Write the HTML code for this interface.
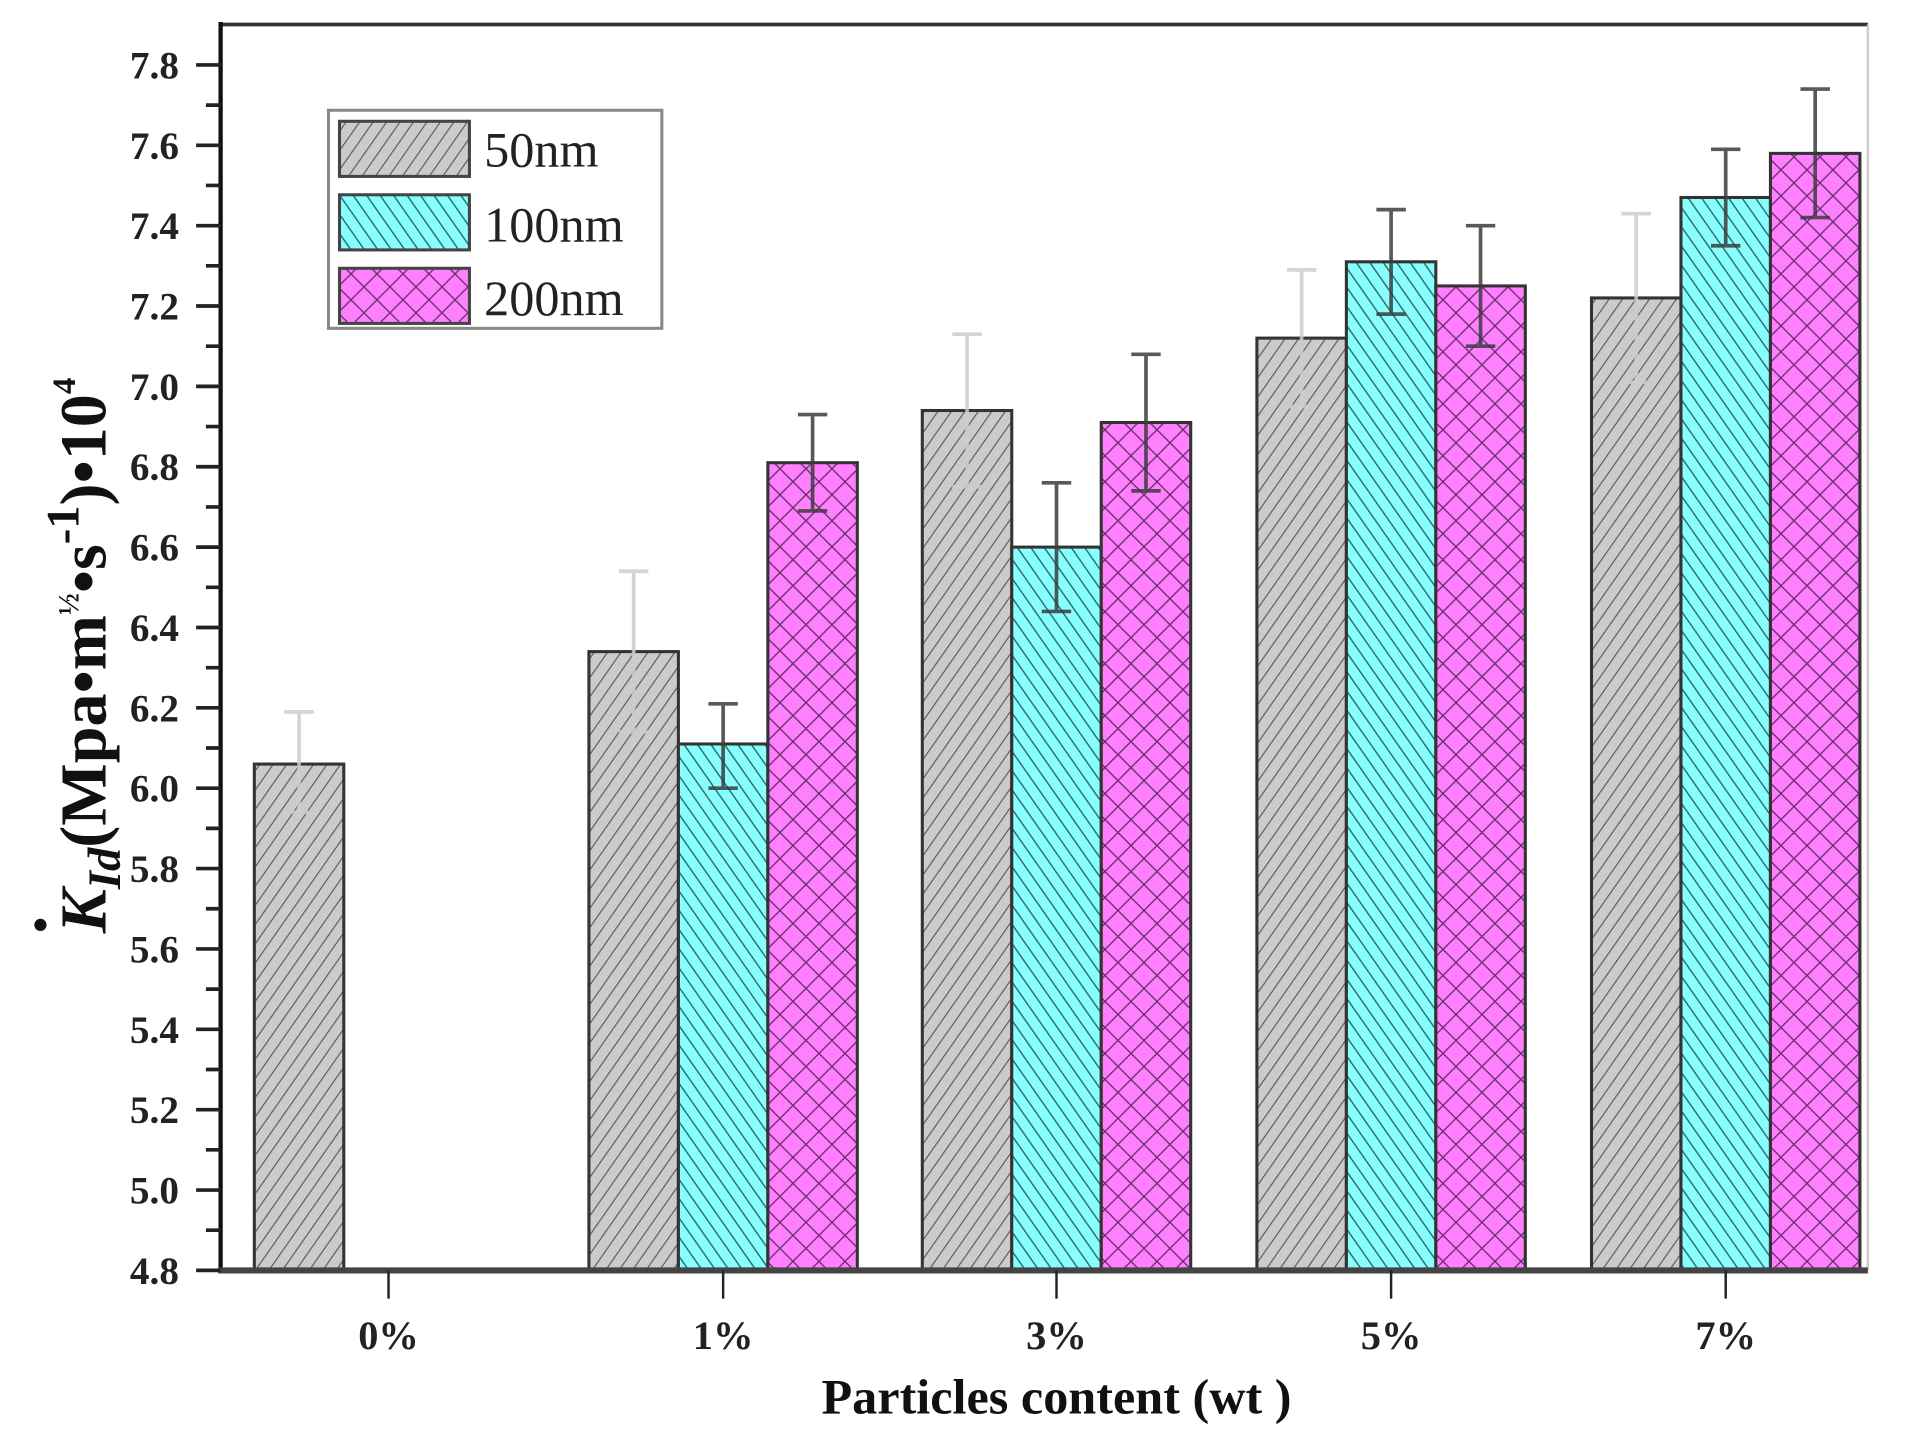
<!DOCTYPE html>
<html><head><meta charset="utf-8"><style>html,body{margin:0;padding:0;background:#fff}svg{display:block}</style></head>
<body>
<svg width="1912" height="1437" viewBox="0 0 1560 1173" preserveAspectRatio="none" xmlns="http://www.w3.org/2000/svg" font-family="'Liberation Serif',serif">
<defs>
<pattern id="pg" width="9" height="9" patternUnits="userSpaceOnUse" patternTransform="rotate(35)">
<rect width="9" height="9" fill="#cbcbcb"/><line x1="0" y1="0" x2="0" y2="9" stroke="#555" stroke-width="1.8"/></pattern>
<pattern id="pc" width="9" height="9" patternUnits="userSpaceOnUse" patternTransform="rotate(-35)">
<rect width="9" height="9" fill="#88ffff"/><line x1="0" y1="0" x2="0" y2="9" stroke="#2f6f6f" stroke-width="2.4"/></pattern>
<pattern id="pm" width="15" height="15" patternUnits="userSpaceOnUse" patternTransform="rotate(45)">
<rect width="15" height="15" fill="#ff80ff"/><line x1="0" y1="0" x2="0" y2="15" stroke="#6a2f6a" stroke-width="2.2"/><line x1="0" y1="0" x2="15" y2="0" stroke="#6a2f6a" stroke-width="2.2"/></pattern>
</defs>
<rect width="1560" height="1173" fill="#fff"/>
<g stroke="#333" stroke-width="2.5">
<rect x="207.5" y="623.7" width="73" height="413.3" fill="url(#pg)"/>
<rect x="480.5" y="531.9" width="73" height="505.1" fill="url(#pg)"/>
<rect x="553.5" y="607.3" width="73" height="429.7" fill="url(#pc)"/>
<rect x="626.5" y="377.7" width="73" height="659.3" fill="url(#pm)"/>
<rect x="752.5" y="335.1" width="73" height="701.9" fill="url(#pg)"/>
<rect x="825.5" y="446.6" width="73" height="590.4" fill="url(#pc)"/>
<rect x="898.5" y="344.9" width="73" height="692.1" fill="url(#pm)"/>
<rect x="1025.5" y="276" width="73" height="761" fill="url(#pg)"/>
<rect x="1098.5" y="213.7" width="73" height="823.3" fill="url(#pc)"/>
<rect x="1171.5" y="233.4" width="73" height="803.6" fill="url(#pm)"/>
<rect x="1298.5" y="243.2" width="73" height="793.8" fill="url(#pg)"/>
<rect x="1371.5" y="161.2" width="73" height="875.8" fill="url(#pc)"/>
<rect x="1444.5" y="125.2" width="73" height="911.8" fill="url(#pm)"/>
</g>
<g stroke="rgba(205,205,205,0.85)" stroke-width="3" fill="none">
<path d="M244 581.1V663.1M232 581.1H256M232 663.1H256"/>
<path d="M517 466.3V597.5M505 466.3H529M505 597.5H529"/>
<path d="M789 272.8V397.4M777 272.8H801M777 397.4H801"/>
<path d="M1062 220.3V331.8M1050 220.3H1074M1050 331.8H1074"/>
<path d="M1335 174.4V312.1M1323 174.4H1347M1323 312.1H1347"/>
</g>
<g stroke="rgba(60,60,60,0.85)" stroke-width="3" fill="none">
<path d="M590 574.5V643.4M578 574.5H602M578 643.4H602"/>
<path d="M663 338.4V417.1M651 338.4H675M651 417.1H675"/>
<path d="M862 394.1V499.1M850 394.1H874M850 499.1H874"/>
<path d="M935 289.2V400.7M923 289.2H947M923 400.7H947"/>
<path d="M1135 171.1V256.4M1123 171.1H1147M1123 256.4H1147"/>
<path d="M1208 184.2V282.6M1196 184.2H1220M1196 282.6H1220"/>
<path d="M1408 121.9V200.6M1396 121.9H1420M1396 200.6H1420"/>
<path d="M1481 72.7V177.6M1469 72.7H1493M1469 177.6H1493"/>
</g>
<line x1="180" y1="20" x2="1524" y2="20" stroke="#333" stroke-width="3"/>
<line x1="1524" y1="20" x2="1524" y2="1037" stroke="#ccc" stroke-width="2"/>
<line x1="180" y1="18" x2="180" y2="1039" stroke="#111" stroke-width="3.5"/>
<line x1="178" y1="1037" x2="1524" y2="1037" stroke="#444" stroke-width="5"/>
<g stroke="#222" stroke-width="3">
<path d="M160 1037H180M160 971.4H180M160 905.8H180M160 840.2H180M160 774.6H180M160 709H180M160 643.4H180M160 577.8H180M160 512.2H180M160 446.6H180M160 381H180M160 315.4H180M160 249.8H180M160 184.2H180M160 118.6H180M160 53H180"/>
<path d="M168 1004.2H180M168 938.6H180M168 873H180M168 807.4H180M168 741.8H180M168 676.2H180M168 610.6H180M168 545H180M168 479.4H180M168 413.8H180M168 348.2H180M168 282.6H180M168 217H180M168 151.4H180M168 85.8H180"/>
</g>
<g stroke="#222" stroke-width="2"><path d="M317 1037V1060M590 1037V1060M862 1037V1060M1135 1037V1060M1408 1037V1060"/></g>
<g font-size="32" font-weight="bold" text-anchor="end" fill="#222">
<text x="146" y="1048">4.8</text><text x="146" y="982.4">5.0</text><text x="146" y="916.8">5.2</text><text x="146" y="851.2">5.4</text><text x="146" y="785.6">5.6</text><text x="146" y="720">5.8</text><text x="146" y="654.4">6.0</text><text x="146" y="588.8">6.2</text><text x="146" y="523.2">6.4</text><text x="146" y="457.6">6.6</text><text x="146" y="392">6.8</text><text x="146" y="326.4">7.0</text><text x="146" y="260.8">7.2</text><text x="146" y="195.2">7.4</text><text x="146" y="129.6">7.6</text><text x="146" y="64">7.8</text>
</g>
<g font-size="33" font-weight="bold" text-anchor="middle" fill="#222">
<text x="317" y="1101">0%</text><text x="590" y="1101">1%</text><text x="862" y="1101">3%</text><text x="1135" y="1101">5%</text><text x="1408" y="1101">7%</text>
</g>
<rect x="268" y="90" width="272" height="178" fill="#fff" stroke="#888" stroke-width="2.5"/>
<rect x="277" y="99" width="106" height="45" fill="url(#pg)" stroke="#444" stroke-width="2.5"/>
<rect x="277" y="159" width="106" height="45" fill="url(#pc)" stroke="#444" stroke-width="2.5"/>
<rect x="277" y="219" width="106" height="45" fill="url(#pm)" stroke="#444" stroke-width="2.5"/>
<g font-size="41" fill="#222"><text x="395" y="136">50nm</text><text x="395" y="197">100nm</text><text x="395" y="257">200nm</text></g>
<text x="862" y="1154" font-size="41" font-weight="bold" text-anchor="middle" fill="#111">Particles content (wt )</text>
<g transform="translate(86,535) rotate(-90)" font-weight="bold" fill="#111" font-size="54" text-anchor="middle">
<text><tspan font-style="italic">K</tspan><tspan font-style="italic" font-size="38" dy="12">Id</tspan><tspan dy="-12">(Mpa•m</tspan><tspan font-size="24" dy="-22">½</tspan><tspan dy="22">•s</tspan><tspan font-size="38" dy="-22">-1</tspan><tspan dy="22">)•10</tspan><tspan font-size="27" dy="-25">4</tspan></text>
</g>
<circle cx="33" cy="755" r="5" fill="#111"/>
</svg>
</body></html>
